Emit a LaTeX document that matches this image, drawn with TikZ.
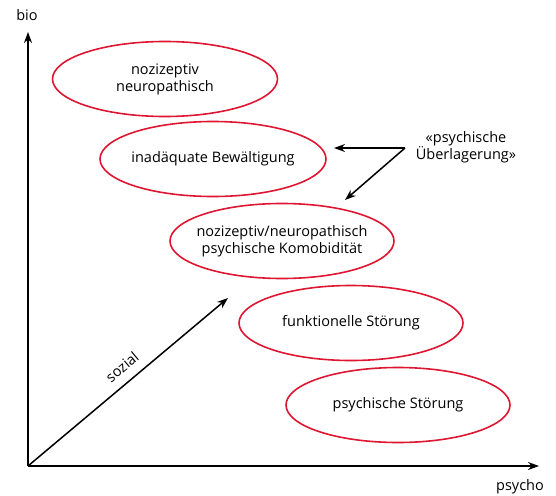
\documentclass[tikz,border=0pt]{standalone}
\usepackage{fontspec}
\setmainfont{Open Sans}
\usetikzlibrary{arrows.meta,shapes.geometric}
\definecolor{ellred}{RGB}{222,22,50}
\begin{document}
\begin{tikzpicture}[x=1pt,y=-1pt,
  lbl/.style={font=\fontsize{14.5}{17}\selectfont, align=center, inner sep=0pt},
  ell/.style={draw=ellred, line width=1.6pt, ellipse, minimum width=#1, minimum height=75pt, inner sep=0pt},
  axis/.style={line width=1.7pt, -{Stealth[length=11pt,width=8pt]}},
  thin arrow/.style={line width=1.5pt, -{Stealth[length=11pt,width=8pt]}}]
\useasboundingbox (0,0) rectangle (556,495);
\coordinate (O) at (28,466);
\coordinate (ytip) at (28,32);
\coordinate (xtip) at (539,466);
\coordinate (stip) at (228,298);
\draw[axis] (O) -- (ytip);
\draw[axis] (O) -- (xtip);
\draw[thin arrow] (O) -- (stip);
\node[lbl] (bio) at (27,15) {bio};
\node[lbl] (psy) at (520,487) {psycho};
\node[lbl, rotate=40] (soz) at (122,367) {sozial};

\node[ell=225pt] (e1) at (165,79) {};
\node[ell=226pt] (e2) at (213,159) {};
\node[ell=224pt] (e3) at (282,241) {};
\node[ell=224pt] (e4) at (351,323) {};
\node[ell=224pt] (e5) at (398,405) {};
\node[lbl] (t1l) at (e1.center) {nozizeptiv\\neuropathisch};
\node[lbl] (t2l) at (e2.center) {inadäquate Bewältigung};
\node[lbl] (t3l) at (e3.center) {nozizeptiv/neuropathisch\\psychische Komobidität};
\node[lbl] (t4l) at (e4.center) {funktionelle Störung};
\node[lbl] (t5l) at (e5.center) {psychische Störung};

\node[lbl] (ov) at (466,147) {«psychische\\Überlagerung»};
\coordinate (src) at (405,148);
\coordinate (t1) at (334,148);
\coordinate (t2) at (345,200);
\draw[thin arrow] (src) -- (t1);
\draw[thin arrow] (src) -- (t2);
\end{tikzpicture}
\end{document}
